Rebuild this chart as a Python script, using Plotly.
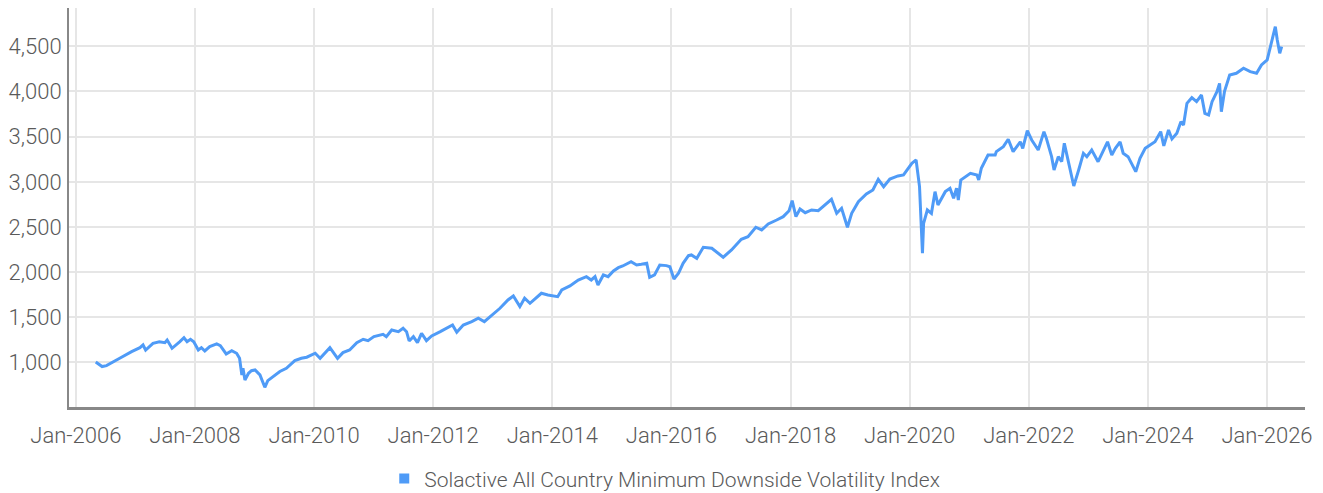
import plotly.graph_objects as go

# Dates and index levels
dates = [
    "2006-05-03", "2006-06-11", "2006-07-08", "2006-08-17", "2006-09-27", "2006-12-09",
    "2007-01-29", "2007-02-17", "2007-03-05", "2007-04-19", "2007-05-28", "2007-07-01",
    "2007-07-15", "2007-08-14", "2007-09-09", "2007-10-01", "2007-10-26", "2007-11-14",
    "2007-12-05", "2007-12-25", "2008-01-22", "2008-02-10", "2008-03-02", "2008-04-01",
    "2008-05-14", "2008-06-05", "2008-07-11", "2008-08-14", "2008-09-13", "2008-10-01",
    "2008-10-15", "2008-10-22", "2008-11-03", "2008-11-25", "2008-12-13", "2009-01-04",
    "2009-02-03", "2009-03-05", "2009-03-23", "2009-04-26", "2009-06-05", "2009-07-15",
    "2009-09-05", "2009-10-15", "2009-11-17", "2010-01-08", "2010-02-07", "2010-04-08",
    "2010-05-25", "2010-06-27", "2010-08-07", "2010-09-20", "2010-10-29", "2010-11-28",
    "2011-01-03", "2011-02-28", "2011-03-20", "2011-04-22", "2011-06-02", "2011-07-01",
    "2011-07-22", "2011-08-07", "2011-09-02", "2011-09-27", "2011-10-22", "2011-11-21",
    "2011-12-23", "2012-02-14", "2012-04-04", "2012-04-29", "2012-05-25", "2012-07-04",
    "2012-08-25", "2012-10-04", "2012-11-10", "2012-12-16", "2013-02-14", "2013-04-04",
    "2013-05-07", "2013-06-16", "2013-07-15", "2013-08-17", "2013-09-27", "2013-10-26",
    "2013-12-05", "2014-02-03", "2014-02-28", "2014-04-19", "2014-06-09", "2014-07-29",
    "2014-08-28", "2014-09-20", "2014-10-08", "2014-11-10", "2014-12-09", "2015-01-11",
    "2015-02-10", "2015-03-09", "2015-04-29", "2015-06-02", "2015-07-01", "2015-08-03",
    "2015-08-21", "2015-09-20", "2015-10-22", "2015-12-02", "2015-12-23", "2016-01-17",
    "2016-02-14", "2016-03-13", "2016-04-15", "2016-05-03", "2016-06-05", "2016-07-15",
    "2016-09-05", "2016-11-14", "2017-01-04", "2017-03-05", "2017-04-15", "2017-06-02",
    "2017-07-08", "2017-08-17", "2017-10-08", "2017-11-17", "2017-12-23", "2018-01-11",
    "2018-02-03", "2018-02-28", "2018-04-01", "2018-05-10", "2018-06-20", "2018-07-29",
    "2018-09-09", "2018-10-11", "2018-11-10", "2018-12-16", "2019-01-11", "2019-02-21",
    "2019-04-11", "2019-05-21", "2019-06-23", "2019-07-26", "2019-09-02", "2019-10-22",
    "2019-11-25", "2020-01-15", "2020-02-10", "2020-03-02", "2020-03-09", "2020-03-20",
    "2020-03-27", "2020-04-19", "2020-05-14", "2020-06-05", "2020-06-23", "2020-08-07",
    "2020-09-05", "2020-09-27", "2020-10-15", "2020-10-26", "2020-11-10", "2021-01-08",
    "2021-02-17", "2021-02-28", "2021-03-16", "2021-04-26", "2021-06-09", "2021-06-16",
    "2021-07-29", "2021-08-28", "2021-09-27", "2021-11-10", "2021-11-25", "2021-12-23",
    "2022-01-19", "2022-02-14", "2022-02-28", "2022-04-04", "2022-04-19", "2022-05-21",
    "2022-06-05", "2022-07-01", "2022-07-22", "2022-08-07", "2022-09-02", "2022-10-04",
    "2022-11-03", "2022-12-02", "2022-12-23", "2023-01-22", "2023-03-02", "2023-04-29",
    "2023-05-25", "2023-06-16", "2023-07-15", "2023-08-03", "2023-09-02", "2023-10-04",
    "2023-10-19", "2023-11-14", "2023-12-16", "2024-01-15", "2024-02-14", "2024-03-20",
    "2024-04-08", "2024-05-07", "2024-05-28", "2024-06-27", "2024-07-22", "2024-08-07",
    "2024-08-28", "2024-09-27", "2024-10-26", "2024-11-25", "2024-12-16", "2025-01-08",
    "2025-01-29", "2025-02-28", "2025-03-16", "2025-03-27", "2025-04-15", "2025-05-17",
    "2025-06-27", "2025-08-10", "2025-09-20", "2025-10-29", "2025-11-28", "2026-01-02",
    "2026-01-19", "2026-02-21", "2026-03-05", "2026-03-20", "2026-04-01",
]

index_values = [
    1005, 955, 965, 1009, 1046, 1120,
    1164, 1194, 1138, 1212, 1230, 1219,
    1249, 1157, 1194, 1230, 1274, 1230,
    1257, 1230, 1138, 1164, 1127, 1175,
    1205, 1186, 1094, 1131, 1102, 1046,
    862, 936, 806, 880, 909, 917,
    862, 725, 799, 843, 900, 936,
    1020, 1046, 1058, 1102, 1046, 1164,
    1046, 1109, 1138, 1219, 1257, 1241,
    1286, 1312, 1286, 1360, 1341, 1379,
    1341, 1238, 1286, 1219, 1323, 1241,
    1293, 1341, 1396, 1415, 1334, 1415,
    1452, 1489, 1452, 1510, 1600, 1692,
    1736, 1618, 1711, 1655, 1717, 1766,
    1747, 1728, 1803, 1847, 1913, 1950,
    1913, 1950, 1858, 1969, 1950, 2013,
    2049, 2068, 2116, 2079, 2087, 2098,
    1943, 1969, 2079, 2072, 2060, 1924,
    1987, 2098, 2182, 2190, 2153, 2275,
    2264, 2165, 2245, 2364, 2393, 2497,
    2467, 2533, 2577, 2614, 2680, 2791,
    2614, 2699, 2658, 2688, 2680, 2744,
    2806, 2651, 2707, 2497, 2651, 2780,
    2865, 2910, 3028, 2946, 3030, 3065,
    3076, 3205, 3242, 2946, 2688, 2209,
    2541, 2688, 2651, 2891, 2744, 2891,
    2928, 2818, 2928, 2799, 3020, 3094,
    3076, 3020, 3150, 3297, 3297, 3334,
    3389, 3471, 3334, 3443, 3370, 3566,
    3463, 3389, 3352, 3555, 3481, 3278,
    3131, 3278, 3223, 3426, 3205, 2954,
    3131, 3316, 3278, 3352, 3223, 3443,
    3297, 3370, 3443, 3316, 3278, 3168,
    3112, 3260, 3370, 3408, 3443, 3555,
    3397, 3574, 3474, 3537, 3666, 3629,
    3869, 3931, 3887, 3961, 3758, 3740,
    3887, 3998, 4090, 3776, 3998, 4183,
    4201, 4257, 4219, 4201, 4293, 4349,
    4478, 4717, 4570, 4422, 4496,
]

series_name = "Solactive All Country Minimum Downside Volatility Index"
y_ticks = [1000, 1500, 2000, 2500, 3000, 3500, 4000, 4500]

LINE_COLOR = "#4F9BF7"
FONT = "Roboto, sans-serif"
FONT_COLOR = "#5a5a5a"

fig = go.Figure()
fig.add_trace(go.Scatter(
    x=dates, y=index_values, mode="lines", name=series_name,
    line=dict(color=LINE_COLOR, width=3), showlegend=False,
))
# legend entry with a square marker, as in the reference
fig.add_trace(go.Scatter(
    x=[None], y=[None], mode="markers", name=series_name,
    marker=dict(symbol="square", size=10, color=LINE_COLOR), showlegend=True,
))

fig.update_layout(
    width=1323, height=493,
    margin=dict(l=69, r=18, t=8, b=86, autoexpand=False),
    paper_bgcolor="white", plot_bgcolor="white",
    font=dict(family=FONT, size=22, color=FONT_COLOR, weight=300),
    legend=dict(
        orientation="h", x=0.482, xanchor="center", y=-0.18, yanchor="middle",
        font=dict(family=FONT, size=21, color=FONT_COLOR, weight=300),
        itemwidth=30,
    ),
    xaxis=dict(
        type="date",
        range=["2005-11-20", "2026-08-22"],
        tick0="2006-01-01", dtick="M24", tickformat="%b-%Y",
        showgrid=True, gridcolor="#e6e6e6", gridwidth=2,
        showline=True, linecolor="#888888", linewidth=2.5,
        ticks="outside", ticklen=7, tickcolor="rgba(0,0,0,0)",
        zeroline=False, automargin=False,
    ),
    yaxis=dict(
        range=[507, 4924],
        tickvals=y_ticks, tickformat=",",
        showgrid=True, gridcolor="#e6e6e6", gridwidth=2,
        showline=True, linecolor="#888888", linewidth=2,
        ticks="outside", ticklen=1, tickcolor="rgba(0,0,0,0)",
        zeroline=False, automargin=False,
    ),
    hovermode="x",
)

fig.write_html(
    "out.html",
    config={"displayModeBar": False},
    post_script="document.body.style.margin='0';",
)
